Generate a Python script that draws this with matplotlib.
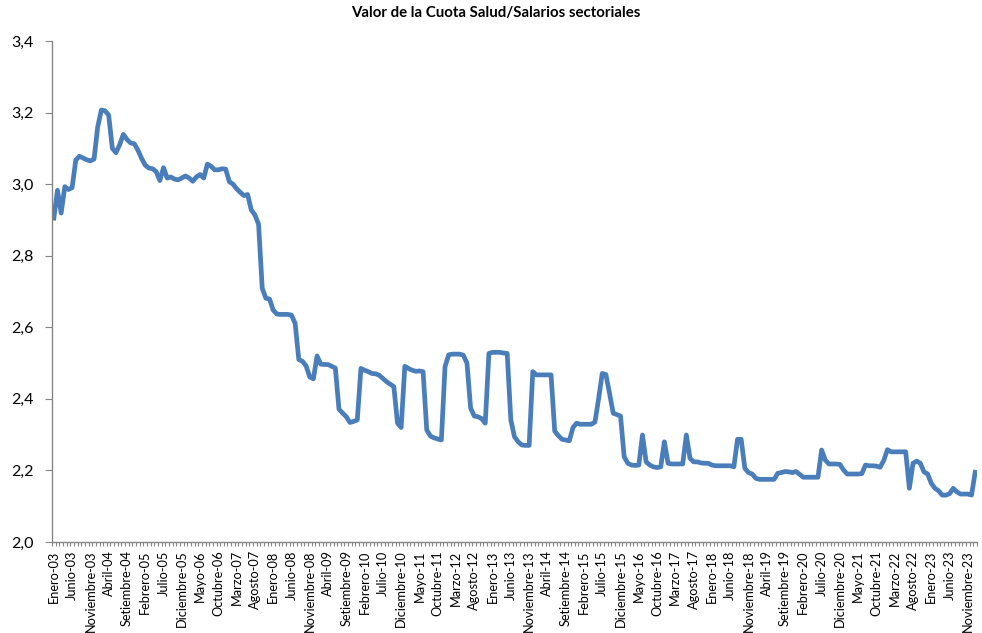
import numpy as np
import matplotlib
matplotlib.use("Agg")
import matplotlib.pyplot as plt

# monthly ratio, Enero-03 .. Enero-24
cuota = [
    2.905, 2.983, 2.919, 2.993, 2.985, 2.990, 3.067, 3.078, 3.073, 3.068,
    3.065, 3.070, 3.160, 3.207, 3.205, 3.193, 3.100, 3.088, 3.110, 3.139,
    3.125, 3.115, 3.113, 3.095, 3.072, 3.053, 3.045, 3.043, 3.035, 3.010,
    3.046, 3.017, 3.020, 3.014, 3.012, 3.017, 3.023, 3.017, 3.008, 3.020,
    3.027, 3.017, 3.056, 3.050, 3.040, 3.040, 3.043, 3.042, 3.007, 3.000,
    2.987, 2.977, 2.968, 2.971, 2.928, 2.914, 2.888, 2.709, 2.681, 2.679,
    2.648, 2.637, 2.636, 2.636, 2.636, 2.634, 2.611, 2.510, 2.505, 2.492,
    2.461, 2.456, 2.520, 2.497, 2.496, 2.496, 2.491, 2.486, 2.371, 2.360,
    2.350, 2.334, 2.337, 2.341, 2.485, 2.480, 2.476, 2.471, 2.470, 2.466,
    2.457, 2.448, 2.441, 2.434, 2.332, 2.320, 2.491, 2.485, 2.480, 2.477,
    2.478, 2.476, 2.313, 2.296, 2.291, 2.288, 2.285, 2.490, 2.523, 2.525,
    2.525, 2.525, 2.522, 2.500, 2.374, 2.352, 2.350, 2.345, 2.332, 2.527,
    2.530, 2.530, 2.530, 2.528, 2.527, 2.341, 2.294, 2.280, 2.271, 2.270,
    2.270, 2.476, 2.467, 2.467, 2.467, 2.467, 2.467, 2.310, 2.297, 2.287,
    2.285, 2.283, 2.320, 2.332, 2.329, 2.329, 2.329, 2.329, 2.335, 2.400,
    2.471, 2.468, 2.415, 2.360, 2.356, 2.352, 2.238, 2.220, 2.215, 2.214,
    2.215, 2.299, 2.224, 2.215, 2.210, 2.208, 2.210, 2.280, 2.220, 2.218,
    2.218, 2.218, 2.218, 2.299, 2.234, 2.224, 2.224, 2.221, 2.220, 2.220,
    2.215, 2.213, 2.213, 2.213, 2.213, 2.213, 2.210, 2.287, 2.287, 2.206,
    2.194, 2.190, 2.178, 2.175, 2.175, 2.175, 2.175, 2.175, 2.192, 2.194,
    2.197, 2.196, 2.194, 2.197, 2.189, 2.181, 2.181, 2.181, 2.181, 2.181,
    2.257, 2.229, 2.218, 2.218, 2.218, 2.217, 2.201, 2.190, 2.190, 2.190,
    2.190, 2.191, 2.215, 2.213, 2.213, 2.212, 2.209, 2.228, 2.258, 2.252,
    2.252, 2.252, 2.252, 2.252, 2.150, 2.220, 2.226, 2.220, 2.196, 2.190,
    2.164, 2.150, 2.143, 2.131, 2.131, 2.135, 2.150, 2.140, 2.134, 2.134,
    2.134, 2.131, 2.195,
]

meses = ["Enero", "Febrero", "Marzo", "Abril", "Mayo", "Junio", "Julio",
         "Agosto", "Setiembre", "Octubre", "Noviembre", "Diciembre"]
anio_inicio = 2003

etiquetas = [f"{meses[k % 12]}-{(anio_inicio + k // 12) % 100:02d}"
             for k in range(len(cuota))]

plt.rcParams['font.family'] = ['Lato', 'DejaVu Sans']

fig = plt.figure(figsize=(9.82, 6.33), dpi=100)
ax = fig.add_axes([52 / 982, 1 - 542 / 633, 925 / 982, 501 / 633])

x = np.arange(len(cuota))
ax.plot(x, cuota, color='#4a7ebb', lw=3.4, solid_joinstyle='round')

ax.set_xlim(-0.5, len(cuota) - 0.5)
ax.set_ylim(2.0, 3.4)
ax.set_yticks(np.arange(2.0, 3.41, 0.2))
ax.set_yticklabels([f"{v:.1f}".replace(".", ",") for v in np.arange(2.0, 3.41, 0.2)],
                   fontsize=11.5)

pos = x[::5]
ax.set_xticks(pos)
ax.set_xticklabels([etiquetas[p] for p in pos], rotation=90, fontsize=9.2)
ax.set_xticks(np.arange(-0.5, len(cuota), 1), minor=True)
ax.tick_params(axis='x', which='major', length=0, pad=6)
ax.tick_params(axis='x', which='minor', length=3, color='#868686', width=0.8)
ax.tick_params(axis='y', length=5, color='#868686', width=0.8, pad=8)

for s in ['top', 'right']:
    ax.spines[s].set_visible(False)
for s in ['left', 'bottom']:
    ax.spines[s].set_color('#868686')
    ax.spines[s].set_linewidth(1.0)

fig.text(495.5 / 982, 1 - 13 / 633,
         "Valor de la Cuota Salud/Salarios sectoriales",
         ha='center', va='center', fontsize=10.8, fontweight='bold')

fig.savefig("out.png", dpi=100)
